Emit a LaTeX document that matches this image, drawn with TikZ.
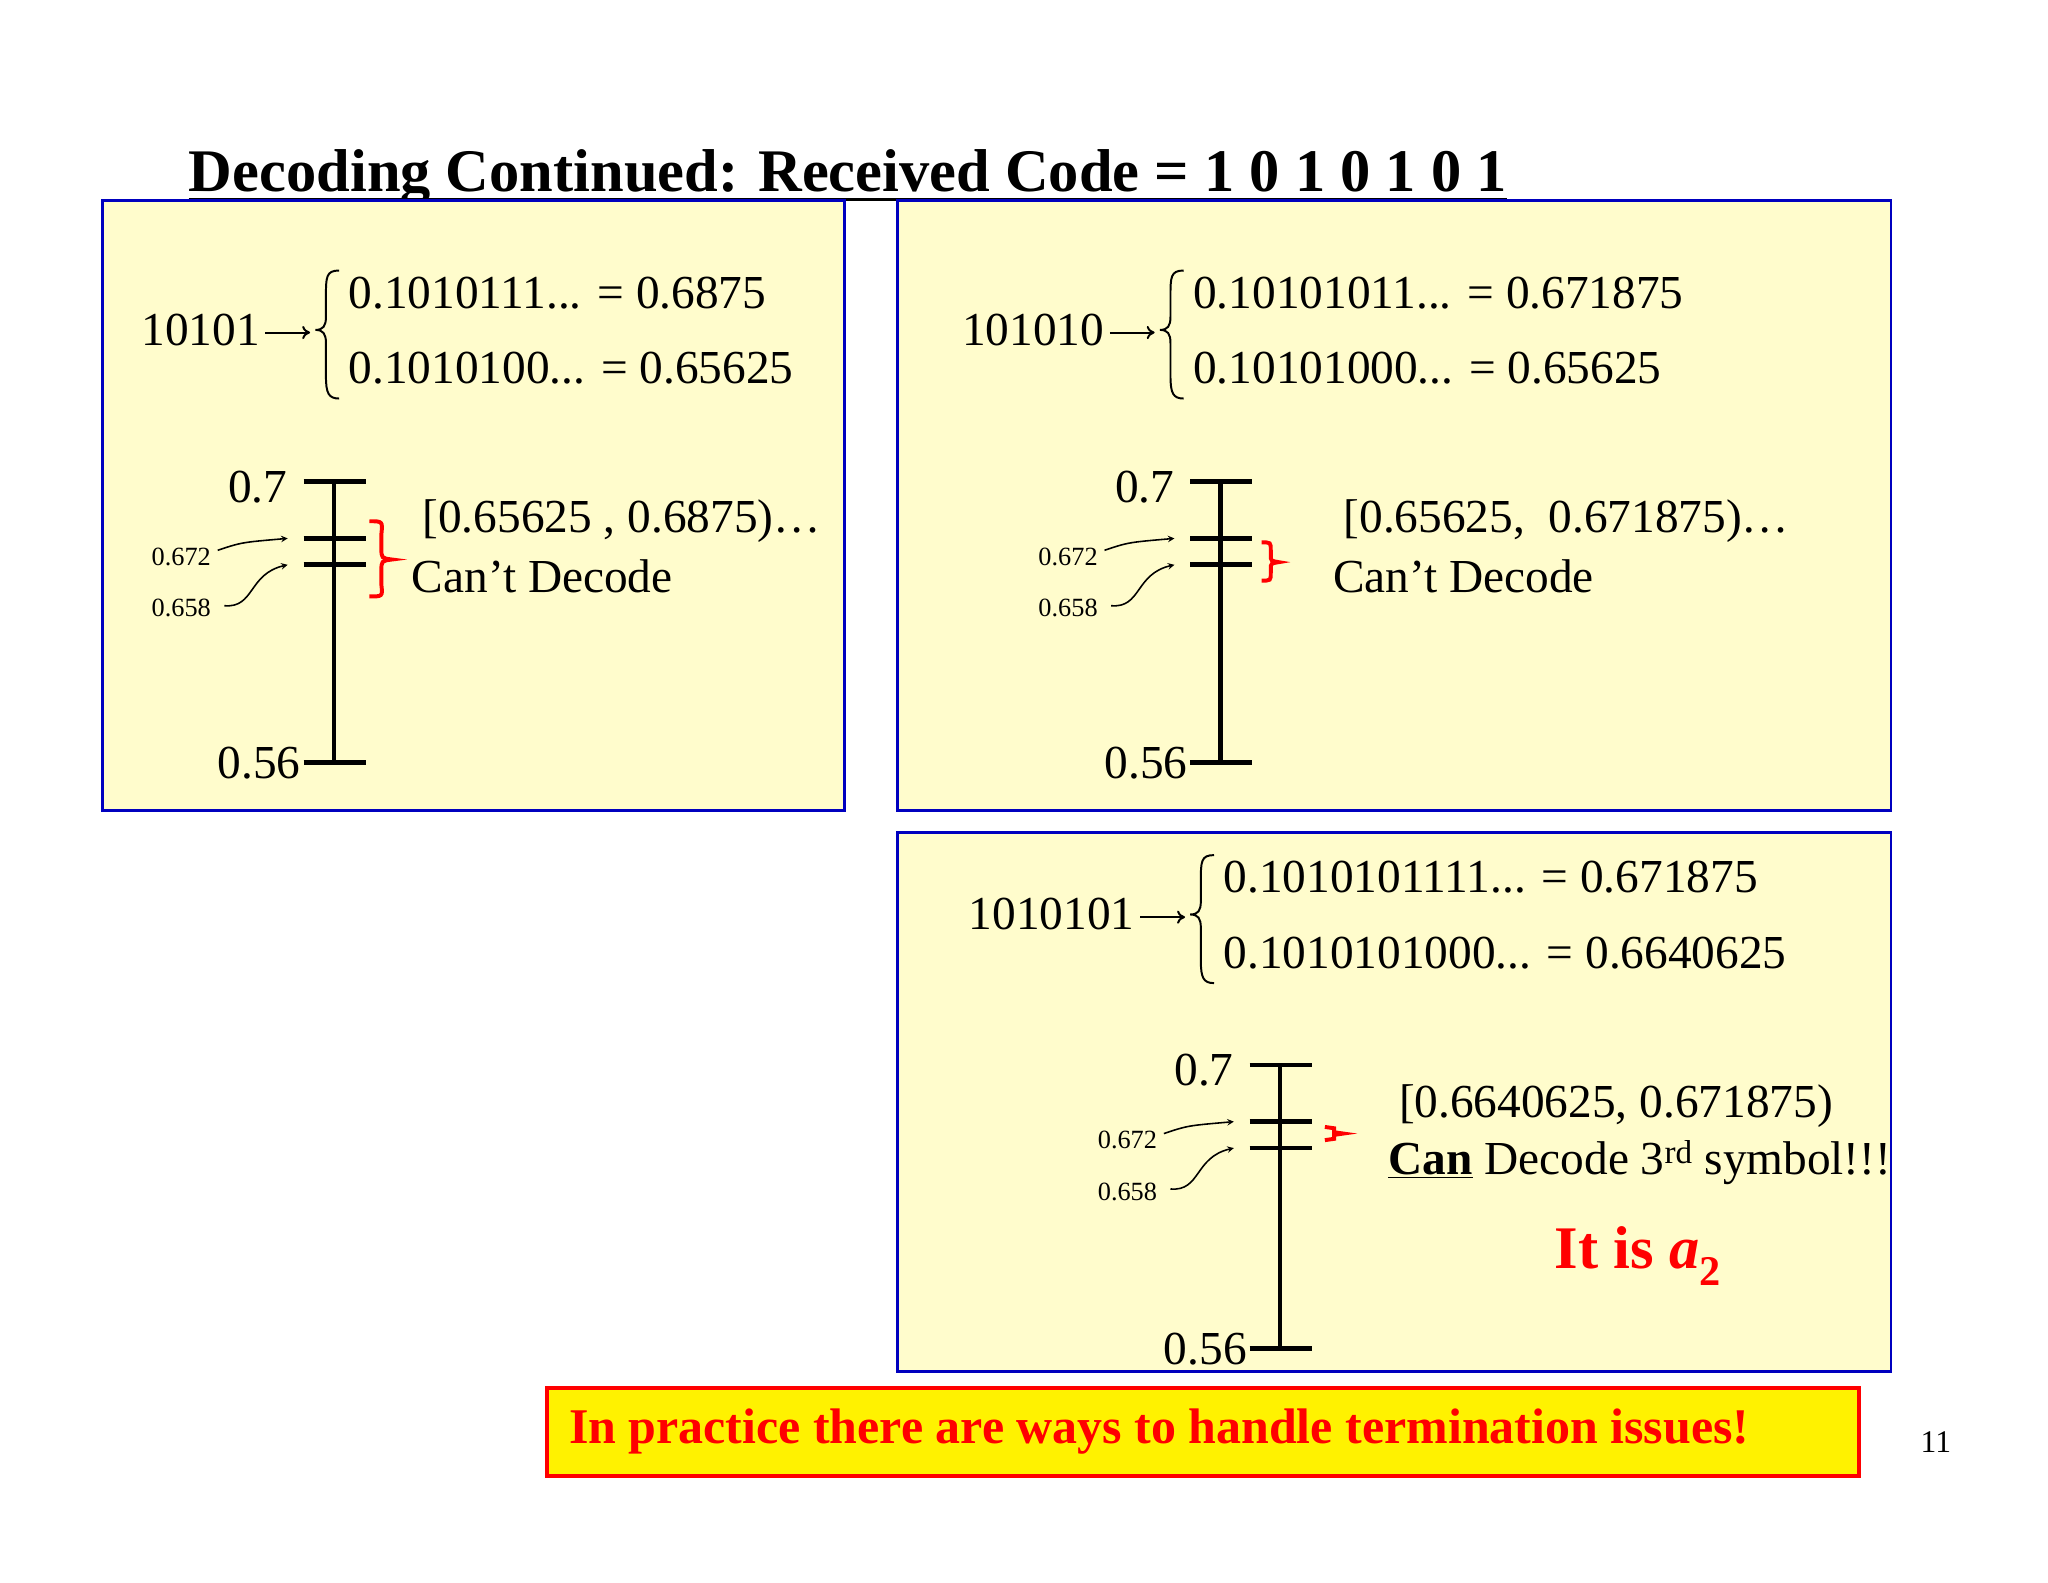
\documentclass[tikz,border=0pt]{standalone}
\usepackage{fontspec}
\setmainfont{Liberation Serif}
\usetikzlibrary{arrows.meta}
\begin{document}
\begin{tikzpicture}[x=1bp,y=-1bp,
 panel/.style={draw=blue!75!black,line width=2.2pt,fill=yellow!20},
 big/.style={font=\fontsize{36}{40}\selectfont,inner sep=0pt},
 small/.style={font=\fontsize{20}{24}\selectfont,inner sep=0pt},
 axis/.style={line width=3.5pt},
 lab/.style={-stealth,line width=1.2pt},
 rb/.style={draw=red,line width=3pt}]
\useasboundingbox (0,0) rectangle (1552,1199);
\fill[white] (0,0) rectangle (1552,1199);
\node[font=\fontsize{46}{52}\selectfont\bfseries,anchor=base west,inner sep=0pt] (title) at (143,145) {Decoding Continued: Received Code = 1 0 1 0 1 0 1};
\draw[line width=2pt] ([yshift=-6bp]title.base west) -- ([yshift=-6bp]title.base east);
\draw[panel] (78,152) rectangle (640,614);
\draw[panel] (680,152) rectangle (1433,614);
\draw[panel] (680,631) rectangle (1433,1039);
\node[draw=red,line width=3pt,fill=yellow,minimum width=994bp,minimum height=67bp,anchor=north west,inner sep=0pt] (note) at (413,1050) {};
\node[anchor=west,font=\fontsize{38}{44}\selectfont\bfseries,text=red,inner sep=0pt] (notet) at (431,1085) {In practice there are ways to handle termination issues!};
\node[font=\fontsize{24}{28}\selectfont,inner sep=0pt] (pg) at (1467,1093) {11};
% equations
\newcommand{\myeq}[5]{%
 \node[big,anchor=east] at (#1-40,#2) {#3};
 \draw[line width=1.5pt,-{To[length=6bp,width=10bp]}] (#1-36,#2+2) -- (#1-2,#2+2);
 \draw[line width=1.5pt] (#1+20,#2-45) .. controls (#1+10,#2-45) and (#1+10,#2-40) .. (#1+10,#2-25) -- (#1+10,#2-10) .. controls (#1+10,#2-3) and (#1+8,#2) .. (#1+2,#2) .. controls (#1+8,#2) and (#1+10,#2+3) .. (#1+10,#2+10) -- (#1+10,#2+35) .. controls (#1+10,#2+48) and (#1+12,#2+52) .. (#1+20,#2+52);
 \node[big,anchor=west] at (#1+27,#2-28) {#4};
 \node[big,anchor=west] at (#1+27,#2+29) {#5};}
\myeq{237}{250}{10101}{0.1010111... = 0.6875}{0.1010100... = 0.65625}
\myeq{877}{250}{101010}{0.10101011... = 0.671875}{0.10101000... = 0.65625}
\myeq{900}{693}{1010101}{0.1010101111... = 0.671875}{0.1010101000... = 0.6640625}
% scales
\newcommand{\myscale}[4]{% x, ytop, dy, ybottom
 \draw[axis] (#1,#2) -- (#1,#4);
 \draw[axis] (#1-23,#2) -- (#1+24,#2);
 \draw[axis] (#1-23,#2+#3) -- (#1+24,#2+#3);
 \draw[axis] (#1-23,#2+#3+20) -- (#1+24,#2+#3+20);
 \draw[axis] (#1-23,#4) -- (#1+24,#4);
 \node[big,anchor=east] at (#1-35,#2+4) {0.7};
 \node[big,anchor=east] at (#1-25,#4) {0.56};
 \node[small,anchor=east] at (#1-93,#2+57) {0.672};
 \node[small,anchor=east] at (#1-93,#2+96) {0.658};
 \draw[lab] (#1-88,#2+52) .. controls (#1-70,#2+46) .. (#1-35,#2+#3);
 \draw[lab] (#1-83,#2+94) .. controls (#1-60,#2+96) and (#1-65,#2+70) .. (#1-35,#2+#3+20);}
\myscale{253}{365}{43}{578}
\myscale{925}{365}{43}{578}
\myscale{970}{807}{43}{1022}
\draw[rb] (280,395) .. controls (290,395) .. (289,405) -- (289,415) .. controls (289,423) .. (297,424) .. controls (289,425) .. (289,433) -- (289,443) .. controls (290,452) .. (280,452);
\draw[rb] (956,411) .. controls (963,411) .. (963,417) -- (963,421) .. controls (963,425) .. (969,426) .. controls (963,427) .. (963,431) -- (963,434) .. controls (963,440) .. (956,440);
\draw[rb] (1004,854) -- (1011,855) -- (1011,858) -- (1018,859) -- (1011,860) -- (1011,863) -- (1004,864);
\node[big,anchor=west] at (320,395) {[0.65625 , 0.6875)\dots};
\node[big,anchor=west] at (312,437) {Can’t Decode};
\node[big,anchor=west] at (1018,395) {[0.65625,\ \ 0.671875)\dots};
\node[big,anchor=west] at (1010,437) {Can’t Decode};
\node[big,anchor=west] at (1060,838) {[0.6640625, 0.671875)};
\node[big,anchor=west] at (1052,881) {\textbf{\underline{Can}} Decode 3\textsuperscript{rd} symbol!!!};
\node[anchor=west,inner sep=0pt,text=red,font=\fontsize{46}{50}\selectfont\bfseries] at (1178,952) {It is \textit{a}\textsubscript{2}};
\end{tikzpicture}
\end{document}
